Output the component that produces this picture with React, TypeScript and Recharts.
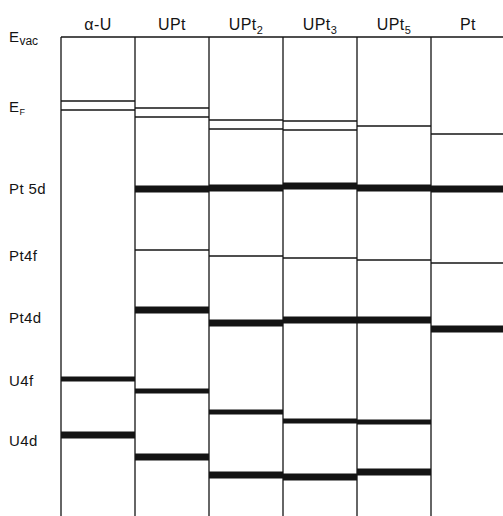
import React from 'react';
import { ComposedChart, XAxis, YAxis, ReferenceLine } from 'recharts';

const compounds = ['α-U', 'UPt', 'UPt', 'UPt', 'UPt', 'Pt'];
const compoundSubs = ['', '', '2', '3', '5', ''];

// depth of each level below E_vac (diagram units), null where a level is absent
const fermiUpper = [64, 71, 83, 84, 89, 97];
const fermiLower = [73, 80, 92, 93, null, null];
const pt5d = [null, 152, 151, 149, 151, 152];
const pt4f = [null, 213, 219, 221, 223, 226];
const pt4d = [null, 273, 286, 283, 283, 292];
const u4f = [342, 354, 375, 384, 385, null];
const u4d = [398, 420, 438, 440, 435, null];

const levelNames = ['E', 'E', 'Pt 5d', 'Pt4f', 'Pt4d', 'U4f', 'U4d'];
const levelSubs = ['vac', 'F', '', '', '', '', ''];
const levelTicks = [0, 70, 152, 219, 281, 344, 404];
const depthMax = 479;

const INK = '#141414';
const FONT = '"Liberation Sans", Arial, sans-serif';

const series = [
  { values: fermiUpper, width: 1.4 },
  { values: fermiLower, width: 1.4 },
  { values: pt5d, width: 7 },
  { values: pt4f, width: 1.4 },
  { values: pt4d, width: 7 },
  { values: u4f, width: 5 },
  { values: u4d, width: 7 },
];

const headerTicks = compounds.map((_, i) => i + 0.5);

const HeaderTick = ({ x, y, payload }: any) => {
  const i = headerTicks.indexOf(payload.value);
  return (
    <text
      x={x}
      y={y}
      dy={1}
      textAnchor="middle"
      fontFamily={FONT}
      fontSize={16}
      letterSpacing={0.4}
      fill={INK}
    >
      {compounds[i]}
      {compoundSubs[i] && (
        <tspan fontSize={11} dy={4}>
          {compoundSubs[i]}
        </tspan>
      )}
    </text>
  );
};

const LevelTick = ({ y, payload }: any) => {
  const i = levelTicks.indexOf(payload.value);
  return (
    <text
      x={9}
      y={y}
      dy={5}
      textAnchor="start"
      fontFamily={FONT}
      fontSize={15}
      letterSpacing={0.4}
      fill={INK}
    >
      {levelNames[i]}
      {levelSubs[i] && (
        <tspan fontSize={i === 1 ? 9 : 12} dy={3} letterSpacing={0}>
          {levelSubs[i]}
        </tspan>
      )}
    </text>
  );
};

export default function App() {
  return (
    <div
      style={{
        position: 'absolute',
        left: 0,
        top: 0,
        width: 503,
        height: 516,
        overflow: 'hidden',
        background: '#fff',
      }}
    >
      <ComposedChart width={505} height={516} margin={{ top: 0, right: 0, bottom: 0, left: 0 }}>
        <XAxis
          type="number"
          dataKey="x"
          orientation="top"
          domain={[0, 6]}
          ticks={headerTicks}
          tick={<HeaderTick />}
          axisLine={false}
          tickLine={false}
          height={37}
          allowDataOverflow
        />
        <YAxis
          type="number"
          dataKey="y"
          domain={[0, depthMax]}
          reversed
          ticks={levelTicks}
          tick={<LevelTick />}
          axisLine={false}
          tickLine={false}
          width={61}
          interval={0}
          allowDataOverflow
        />
        {/* vacuum level across the top */}
        <ReferenceLine y={0} stroke={INK} strokeWidth={1.6} ifOverflow="visible" />
        {/* column dividers */}
        {compounds.map((_, i) => (
          <ReferenceLine key={`col-${i}`} x={i} stroke={INK} strokeWidth={1.3} ifOverflow="visible" />
        ))}
        {/* energy levels, one segment per compound */}
        {series.flatMap((s, k) =>
          s.values.map((v, i) =>
            v == null ? null : (
              <ReferenceLine
                key={`lvl-${k}-${i}`}
                segment={[
                  { x: i, y: v },
                  { x: i + 1, y: v },
                ]}
                stroke={INK}
                strokeWidth={s.width}
                ifOverflow="visible"
              />
            )
          )
        )}
      </ComposedChart>
    </div>
  );
}
